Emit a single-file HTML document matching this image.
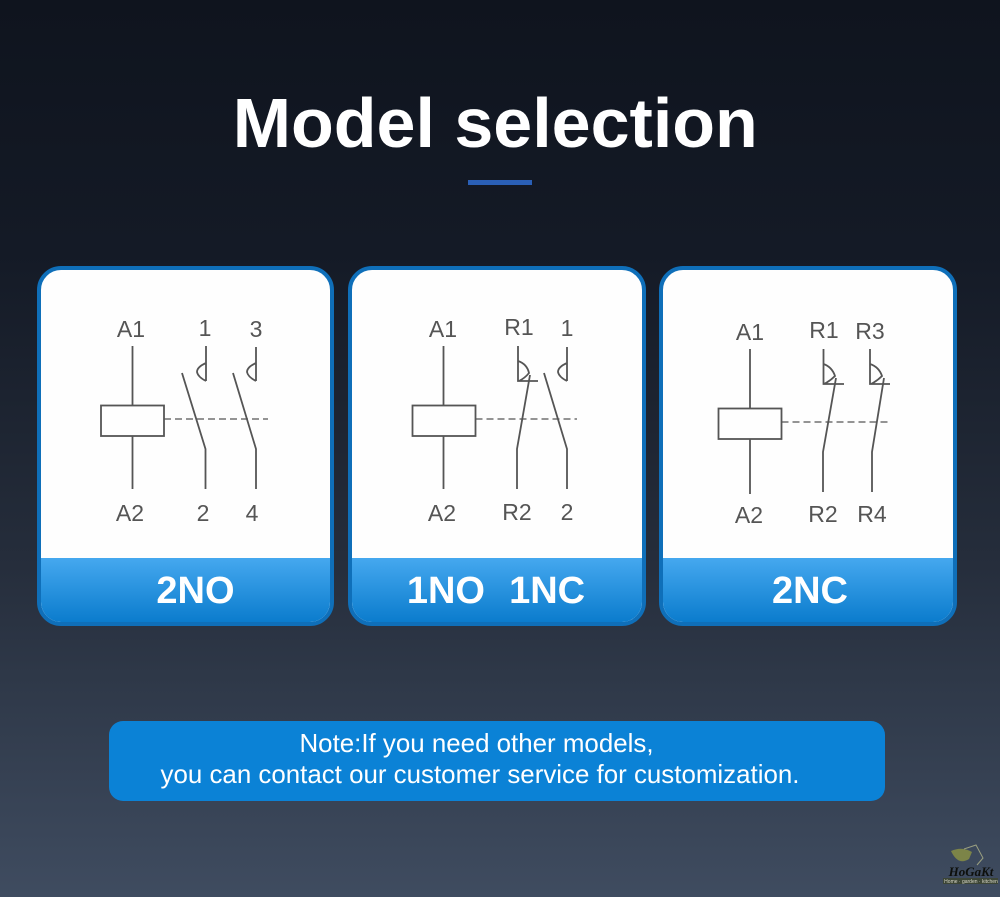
<!DOCTYPE html>
<html>
<head>
<meta charset="utf-8">
<style>
html,body{margin:0;padding:0}
body{width:1000px;height:897px;overflow:hidden;position:relative;background:linear-gradient(180deg,#0f141e 0%,#141a26 28%,#252d3b 62%,#3f4c60 100%);font-family:"Liberation Sans",sans-serif}
.t{position:absolute;white-space:nowrap;text-align:center}
#title{left:0;width:990.500px;top:83px;font-size:70px;line-height:80px;font-weight:700;color:#fff}
#bar{position:absolute;left:468px;top:180px;width:64px;height:5px;background:#2a5fb6}
.card{position:absolute;top:266px;height:352px;width:289px;border:4px solid #0f6fb9;border-radius:24px;background:#fefefe;overflow:hidden}
.band{position:absolute;left:0;right:0;top:288px;height:64px;background:linear-gradient(180deg,#45a8ef 0%,#0b7ccd 100%);color:#fff;font-weight:700;font-size:38px;line-height:67px;text-align:center;white-space:pre}
#note{position:absolute;left:109px;top:721px;width:776px;height:80px;border-radius:14px;background:#0b82d6}
svg{position:absolute;left:0;top:0}
</style>
</head>
<body>
<div class="t" id="title">Model selection</div>
<div id="bar"></div>
<div class="card" style="left:37px"><div class="band"><span style="position:relative;left:10px">2NO</span></div></div>
<div class="card" style="left:348px;width:290px"><div class="band"><span style="position:relative;left:-1px;word-spacing:1.500px">1NO  1NC</span></div></div>
<div class="card" style="left:659px;width:290px"><div class="band"><span style="position:relative;left:2px">2NC</span></div></div>
<div id="note"></div>
<div class="t" style="left:109px;width:776px;top:729px;font-size:25.9px;line-height:31px;color:#fff;"><span style="position:relative;left:-20.500px">Note:If you need other models,</span><br><span style="position:relative;left:-17px">you can contact our customer service for customization.</span></div>
<svg width="1000" height="897" viewBox="0 0 1000 897">
<g fill="none" stroke="#555" stroke-width="1.8">
<!-- card 1 -->
<rect x="101" y="405.5" width="63" height="30.5"/>
<path d="M132.5 346V405M132.5 436V489"/>
<path d="M206 346V381M206 363Q197 367 197 372Q198 377 206 381"/>
<path d="M256 347V381M256 363Q247 367 247 372Q248 377 256 381"/>
<path d="M182 373L205.500 449V489M233 373L256 449V489"/>
<path d="M164 419H268" stroke-width="1.2" stroke-dasharray="7 4"/>
<!-- card 2 -->
<rect x="412.500" y="405.500" width="63" height="30.500"/>
<path d="M443.500 346V405M443.500 436V489"/>
<path d="M518 346V381H538M518 361Q527 364 529 373Q525 378 519 381"/>
<path d="M530 375L517 449V489"/>
<path d="M567 347V381M567 363Q558 367 558 372Q559 377 567 381"/>
<path d="M544 373L567 449V489"/>
<path d="M475.500 419H577" stroke-width="1.2" stroke-dasharray="7 4"/>
<!-- card 3 -->
<rect x="718.500" y="408.500" width="63" height="30.500"/>
<path d="M750 349V408M750 439V494"/>
<path d="M823.500 349V384H844M823.500 364Q832 367 835 376Q830 381 824 384"/>
<path d="M870 349V384H890M870 364Q879 367 882 376Q877 381 871 384"/>
<path d="M836 378L823 452V492M884 378L872 452V492"/>
<path d="M781.500 422H889" stroke-width="1.2" stroke-dasharray="7 4"/>
</g>
<g font-family="Liberation Sans, sans-serif" font-size="23" fill="#555" text-anchor="middle">
<text x="131" y="337">A1</text><text x="205" y="336">1</text><text x="256" y="337">3</text>
<text x="130" y="521">A2</text><text x="203" y="521">2</text><text x="252" y="521">4</text>
<text x="443" y="337">A1</text><text x="519" y="335">R1</text><text x="567" y="336">1</text>
<text x="442" y="521">A2</text><text x="517" y="520">R2</text><text x="567" y="520">2</text>
<text x="750" y="340">A1</text><text x="824" y="338">R1</text><text x="870" y="339">R3</text>
<text x="749" y="523">A2</text><text x="823" y="522">R2</text><text x="872" y="522">R4</text>
</g>
<!-- logo -->
<path d="M951 851Q962 846 972 852L969 859Q958 866 951 851Z" fill="#7c8448"/>
<path d="M964 849L976 845L983 858L977 865" fill="none" stroke="#9a9f80" stroke-width="1"/>
<text x="971" y="876" font-family="Liberation Serif, serif" font-style="italic" font-weight="700" font-size="13" fill="#0d0f0c" text-anchor="middle">HoGaKt</text>
<rect x="943" y="878" width="55" height="6" fill="#3c4536"/>
<text x="971" y="883" font-family="Liberation Sans, sans-serif" font-size="5" fill="#d8d8c8" text-anchor="middle">Home · garden · kitchen</text>
</svg>
</body>
</html>
